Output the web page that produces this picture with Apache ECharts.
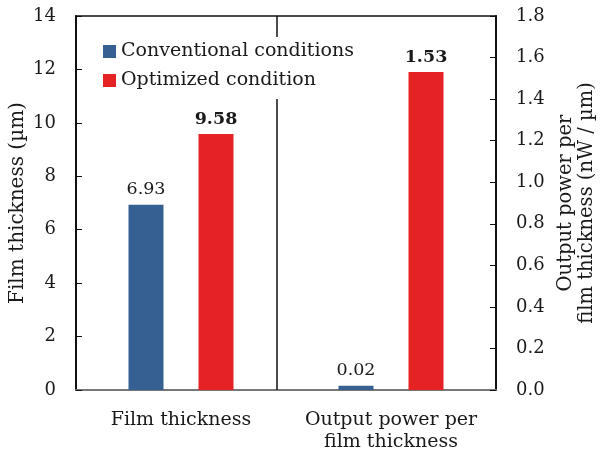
<!DOCTYPE html>
<html>
<head>
<meta charset="utf-8">
<script src="https://cdn.jsdelivr.net/npm/echarts@6/dist/echarts.min.js"></script>
<style>html,body{margin:0;padding:0;background:#fff;}#c{width:603px;height:456px;}</style>
</head>
<body>
<div id="c"></div>
<script>
const categories = ['Film thickness', 'Output power per\nfilm thickness'];
const seriesNames = ['Conventional conditions', 'Optimized condition'];
const thicknessConventional = [6.93, '-'];
const thicknessOptimized = [9.58, '-'];
const powerConventional = ['-', 0.02];
const powerOptimized = ['-', 1.53];
const leftAxisName = 'Film thickness (µm)';
const rightAxisName = 'Output power per\nfilm thickness (nW / µm)';

const FONT = 'DejaVu Serif';
const BLUE = '#376092';
const RED = '#E52325';
const TXT = '#1a1a1a';

function bar(name, data, yIdx, color, stack, bold) {
  return {
    name: name, type: 'bar', data: data, yAxisIndex: yIdx, stack: stack,
    barWidth: 35, barGap: '100%',
    itemStyle: { color: color },
    label: {
      show: true, position: 'top', distance: 6,
      fontFamily: FONT, fontSize: 17.5, color: TXT,
      fontWeight: bold ? 'bold' : 'normal',
      formatter: p => p.value
    },
    z: 3
  };
}

const chart = echarts.init(document.getElementById('c'), null, { renderer: 'canvas' });
chart.setOption({
  animation: false,
  backgroundColor: '#fff',
  grid: { left: 76, right: 107, top: 16, bottom: 66, containLabel: false, outerBoundsMode: 'none', show: true, borderColor: '#111', borderWidth: 1.5, backgroundColor: 'transparent' },
  legend: {
    data: seriesNames, orient: 'vertical', left: 98, top: 37,
    padding: [5, 5, 9, 5], backgroundColor: '#fff',
    itemWidth: 13, itemHeight: 13, itemGap: 10, icon: 'rect',
    textStyle: { fontFamily: FONT, fontSize: 19, color: TXT, lineHeight: 16 },
    z: 10
  },
  xAxis: {
    type: 'category', data: categories,
    axisLine: { lineStyle: { color: '#777', width: 2 } },
    axisTick: { show: false },
    axisLabel: { interval: 0, hideOverlap: false, fontFamily: FONT, fontSize: 19, color: TXT, margin: 19, lineHeight: 22 }
  },
  yAxis: [
    {
      type: 'value', min: 0, max: 14, interval: 2, position: 'left',
      name: leftAxisName, nameLocation: 'middle', nameGap: 48, nameMoveOverlap: false,
      nameTextStyle: { fontFamily: FONT, fontSize: 20, color: TXT },
      axisLine: { show: true, lineStyle: { color: '#111', width: 2 } },
      axisTick: { show: true, inside: true, length: 6, lineStyle: { color: '#111' } },
      axisLabel: { fontFamily: FONT, fontSize: 18, color: TXT, margin: 20 },
      splitLine: { show: false }
    },
    {
      type: 'value', min: 0, max: 1.8, interval: 0.2, position: 'right',
      name: rightAxisName, nameLocation: 'middle', nameGap: 57,
      nameTextStyle: { fontFamily: FONT, fontSize: 19.5, color: TXT, lineHeight: 21 },
      axisLine: { show: true, lineStyle: { color: '#111', width: 2 } },
      axisTick: { show: true, inside: true, length: 6, lineStyle: { color: '#111' } },
      axisLabel: { fontFamily: FONT, fontSize: 18, color: TXT, margin: 20, formatter: v => v.toFixed(1) },
      splitLine: { show: false }
    }
  ],
  graphic: [{
    type: 'line', z: 1,
    shape: { x1: 277, y1: 16, x2: 277, y2: 390 },
    style: { stroke: '#111', lineWidth: 1.5 }
  }],
  series: [
    bar(seriesNames[0], thicknessConventional, 0, BLUE, 'conv', false),
    bar(seriesNames[1], thicknessOptimized, 0, RED, 'opt', true),
    bar(seriesNames[0], powerConventional, 1, BLUE, 'conv', false),
    bar(seriesNames[1], powerOptimized, 1, RED, 'opt', true)
  ]
});
</script>
</body>
</html>
